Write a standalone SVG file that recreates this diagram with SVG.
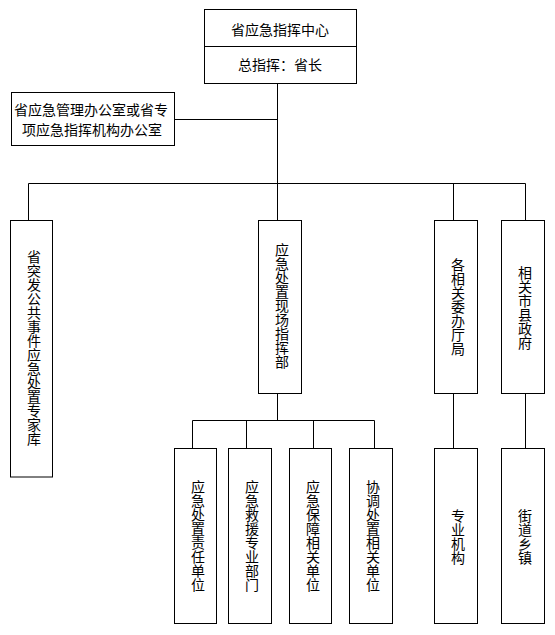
<svg xmlns="http://www.w3.org/2000/svg" width="555" height="635" viewBox="0 0 555 635">
<style>
rect{fill:#fff;stroke:#000;stroke-width:1}
line,path{stroke:#000;stroke-width:1;fill:none}
text{font-family:"Noto Sans CJK SC","Noto Sans CJK JP",sans-serif;font-size:14px;fill:#000;text-anchor:middle}
.h{dominant-baseline:central}
.v{writing-mode:vertical-rl;text-orientation:upright}
</style>
<rect x="0" y="0" width="555" height="635" style="stroke:none"/>
<g id="connectors">
<line x1="277.5" y1="83.5" x2="277.5" y2="220.5"/>
<line x1="174.5" y1="119.5" x2="277.5" y2="119.5"/>
<path d="M28.5 220.5 V183.5 H525.5 V220.5"/>
<line x1="453.5" y1="183.5" x2="453.5" y2="220.5"/>
<line x1="277.5" y1="393.5" x2="277.5" y2="420.5"/>
<path d="M192.5 448.5 V420.5 H374.5 V448.5"/>
<line x1="246.5" y1="420.5" x2="246.5" y2="448.5"/>
<line x1="313.5" y1="420.5" x2="313.5" y2="448.5"/>
<line x1="453.5" y1="393.5" x2="453.5" y2="448.5"/>
<line x1="525.5" y1="393.5" x2="525.5" y2="448.5"/>
</g>
<g id="center">
<rect x="204.5" y="9.5" width="152" height="74"/>
<line x1="204.5" y1="46.5" x2="356.5" y2="46.5"/>
<text class="h" x="280" y="28.5">省应急指挥中心</text>
<text class="h" x="280" y="64">总指挥：省长</text>
</g>
<g id="office">
<rect x="11.5" y="92.5" width="163" height="53"/>
<text class="h"><tspan x="91" y="108.5">省应急管理办公室或省专</tspan><tspan x="92" y="129">项应急指挥机构办公室</tspan></text>
</g>
<g id="experts">
<rect x="10.5" y="220.5" width="42" height="256.5"/>
<text class="v" x="34" y="348">省突发公共事件应急处置专家库</text>
</g>
<g id="field">
<rect x="258.5" y="220.5" width="43" height="173"/>
<text class="v" x="282" y="306">应急处置现场指挥部</text>
</g>
<g id="depts">
<rect x="434.5" y="220.5" width="43" height="173"/>
<text class="v" x="458" y="306.5">各相关委办厅局</text>
</g>
<g id="gov">
<rect x="501.5" y="220.5" width="43" height="173"/>
<text class="v" x="525" y="307.5">相关市县政府</text>
</g>
<g id="sub1">
<rect x="174.5" y="448.5" width="42" height="175"/>
<text class="v" x="198" y="536">应急处置责任单位</text>
</g>
<g id="sub2">
<rect x="228.5" y="448.5" width="43" height="175"/>
<text class="v" x="252" y="536">应急救援专业部门</text>
</g>
<g id="sub3">
<rect x="289.5" y="448.5" width="42" height="175"/>
<text class="v" x="313" y="536">应急保障相关单位</text>
</g>
<g id="sub4">
<rect x="349.5" y="448.5" width="43" height="175"/>
<text class="v" x="373" y="536">协调处置相关单位</text>
</g>
<g id="agencies">
<rect x="434.5" y="448.5" width="43" height="175"/>
<text class="v" x="458" y="536.5">专业机构</text>
</g>
<g id="towns">
<rect x="501.5" y="448.5" width="43" height="175"/>
<text class="v" x="525" y="536.5">街道乡镇</text>
</g>
</svg>
